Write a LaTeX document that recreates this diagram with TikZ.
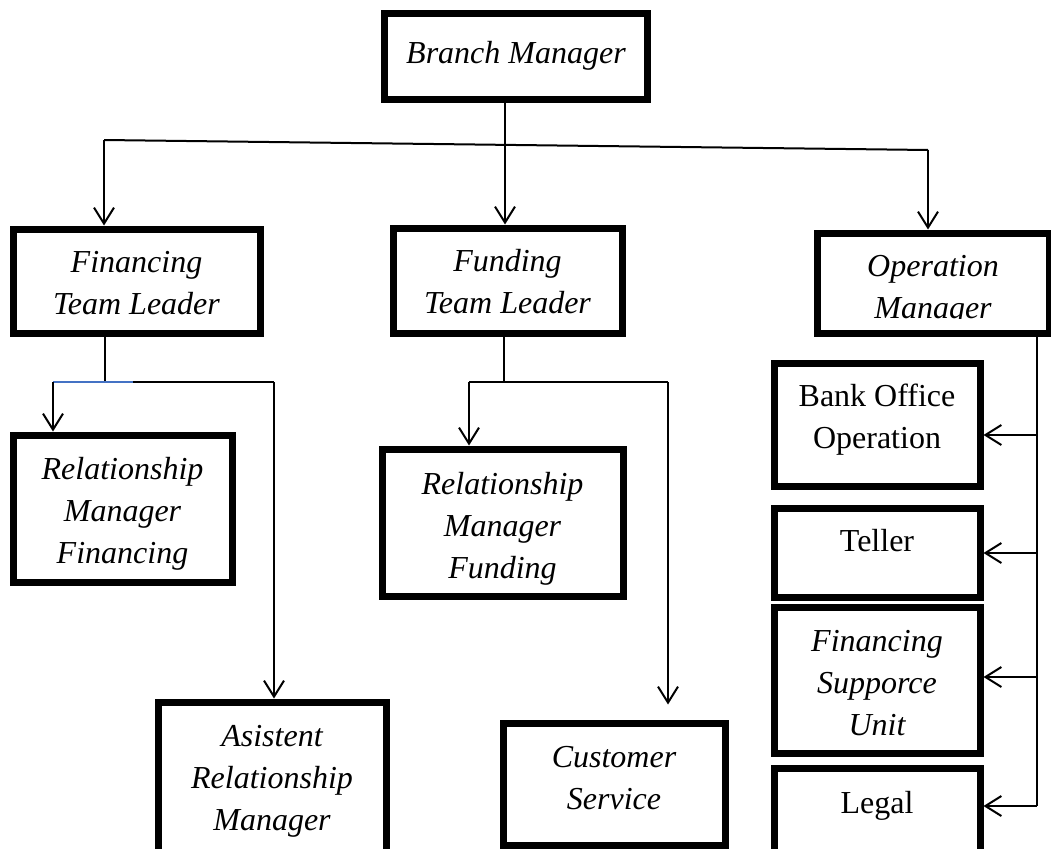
\documentclass[tikz,border=0pt]{standalone}
\usepackage{fontspec}
\setmainfont{Liberation Serif}
\usetikzlibrary{arrows.meta}
\definecolor{lineblue}{HTML}{4472C4}
\newcommand\mvtext[2]{\raisebox{#1}[\height][\depth]{\begin{tabular}{@{}c@{}}#2\end{tabular}}}
\begin{document}
\begin{tikzpicture}[x=1pt,y=-1pt,
  box/.style={draw,line width=7pt,inner sep=0pt,align=center,fill=white,
    font=\fontsize{32}{42}\selectfont\itshape},
  ubox/.style={box,font=\fontsize{32}{42}\selectfont\upshape},
  conn/.style={line width=2pt},
  arr/.style={conn,-{Straight Barb[length=16pt,width=20pt]}}]
\useasboundingbox (0,0) rectangle (1051,848);
\begin{scope}
\clip (0,0) rectangle (1051,848);
% boxes
\node[box,minimum width=263pt,minimum height=86pt] (bm) at (516,57) {\mvtext{2pt}{Branch Manager}};
\node[box,minimum width=247pt,minimum height=104pt] (ftl) at (136.5,281) {\mvtext{-4pt}{Financing\\Team Leader}};
\node[box,minimum width=229pt,minimum height=105pt] (fdtl) at (507.5,280.5) {\mvtext{-4pt}{Funding\\Team Leader}};
\node[box,minimum width=232pt,minimum height=100pt] (op) at (933,283) {\mvtext{-6pt}{Operation\\Manager}};
\fill[white] (821,319) rectangle (1045,329.5);
\node[box,minimum width=219pt,minimum height=147pt] (rmf) at (122.5,508.5) {\mvtext{-5pt}{Relationship\\Manager\\Financing}};
\node[box,minimum width=241pt,minimum height=147pt] (rmfd) at (502.5,522.5) {\mvtext{-6pt}{Relationship\\Manager\\Funding}};
\node[box,minimum width=228pt,minimum height=158pt] (arm) at (272,781) {\mvtext{1pt}{Asistent\\Relationship\\Manager}};
\node[box,minimum width=222pt,minimum height=122pt] (cs) at (614,784) {\mvtext{4pt}{Customer\\Service}};
\node[ubox,minimum width=206pt,minimum height=123pt] (bo) at (877,424.5) {\mvtext{5pt}{Bank Office\\Operation}};
\node[ubox,minimum width=206pt,minimum height=89pt] (tel) at (877,552.5) {\mvtext{9pt}{Teller}};
\node[box,minimum width=206pt,minimum height=146pt] (fsu) at (877,680) {\mvtext{-5pt}{Financing\\Supporce\\Unit}};
\node[ubox,minimum width=206pt,minimum height=84pt] (leg) at (877,810) {\mvtext{5pt}{Legal}};
% top level connectors
\coordinate (hl) at (104,140);
\coordinate (hm) at (505,145);
\coordinate (hr) at (928,150);
\draw[conn] (hm |- bm.south) -- (hm);
\draw[conn] (hl) -- (hr);
\draw[arr] (hl) -- (hl |- ftl.north);
\draw[arr] (hm) -- (hm |- fdtl.north);
\draw[arr] (hr) -- (hr |- op.north);
% financing branch
\coordinate (fj) at (105,382);
\coordinate (fl) at (53,382);
\coordinate (fb) at (133,382);
\coordinate (fr) at (274,382);
\draw[conn] (fj |- ftl.south) -- (fj);
\draw[conn] (fb) -- (fr);
\draw[conn,lineblue] (fl) -- (fb);
\draw[arr] (fl) -- (fl |- rmf.north);
\draw[arr] (fr) -- (fr |- arm.north);
% funding branch
\coordinate (gj) at (504,382);
\coordinate (gl) at (469,382);
\coordinate (gr) at (668,382);
\draw[conn] (gj |- fdtl.south) -- (gj);
\draw[conn] (gl) -- (gr);
\draw[arr] (gl) -- (gl |- rmfd.north);
\draw[arr] (gr) -- ([yshift=15pt]cs.north -| gr);
% operation branch
\coordinate (v0) at (1037,333);
\coordinate (v1) at (1037,435);
\coordinate (v2) at (1037,553);
\coordinate (v3) at (1037,677);
\coordinate (v4) at (1037,806);
\draw[conn] (v0) -- (v4);
\draw[arr] (v1) -- (v1 -| bo.east);
\draw[arr] (v2) -- (v2 -| tel.east);
\draw[arr] (v3) -- (v3 -| fsu.east);
\draw[arr] (v4) -- (v4 -| leg.east);
\end{scope}
\end{tikzpicture}
\end{document}
